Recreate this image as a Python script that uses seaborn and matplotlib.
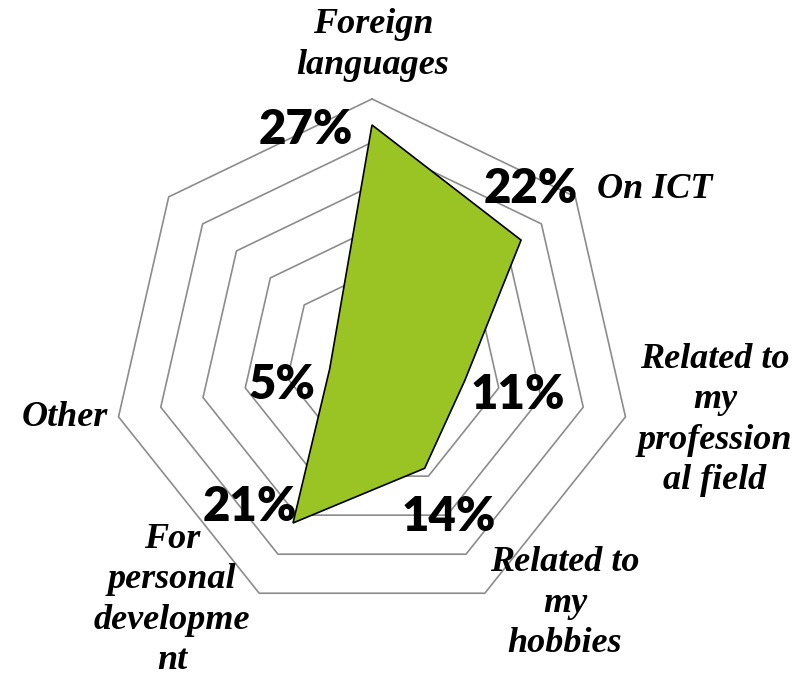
import numpy as np
import pandas as pd
import matplotlib.pyplot as plt
import seaborn as sns

sns.set_theme(style="white")

# chart data (the 7th spoke has no label and no value in the original)
categories = ["Foreign\nlanguages", "On ICT", "Related to\nmy\nprofession\nal field",
              "Related to\nmy\nhobbies", "For\npersonal\ndevelopme\nnt", "Other", ""]
values = [27, 22, 11, 14, 21, 5, np.nan]
pct_labels = ["27%", "22%", "11%", "14%", "21%", "5%", ""]
ring_levels = [5, 10, 15, 20, 25, 30]

# layout only: value label offsets (pixels) and category label centres (pixels)
label_offsets = [(-66, -5), (10, 51), (53, -15), (24, -49), (-43, 16), (-48, -16)]
cat_pos = [(373, 45), (655, 190), (715, 420), (565, 603), (172, 600), (65, 418)]

W, H = 809, 680
fig = plt.figure(figsize=(W / 100, H / 100), dpi=100)
ax = fig.add_axes([0, 0, 1, 1])
ax.set_xlim(-42.92, 50.42)
ax.set_ylim(-37.04, 41.42)
ax.set_aspect("equal")
ax.axis("off")

n = len(categories)
theta = 2 * np.pi * np.arange(n) / n
closed = np.append(theta, theta[0])

for lvl in ring_levels:
    ax.plot(lvl * np.sin(closed), lvl * np.cos(closed), color="#8c8c8c", lw=1.2, zorder=1)

df = pd.DataFrame({"cat": categories, "value": values, "theta": theta, "label": pct_labels})
df = df.dropna().reset_index(drop=True)
df["x"] = df["value"] * np.sin(df["theta"])
df["y"] = df["value"] * np.cos(df["theta"])

ax.fill(df["x"], df["y"], facecolor="#99c424", edgecolor="black", lw=1.2, zorder=2)

for i, row in df.iterrows():
    ax.annotate(row["label"], (row["x"], row["y"]), xytext=label_offsets[i],
                textcoords="offset pixels", ha="center", va="center",
                fontsize=34, fontweight="heavy", family="Lato", color="black", zorder=3)

for (px, py), name in zip(cat_pos, categories):
    fig.text(px / W, 1 - py / H, name, ha="center", va="center", fontsize=26,
             family="Liberation Serif", fontweight="bold", style="italic",
             linespacing=1.3, color="black")

fig.savefig("out.png", dpi=100, facecolor="white")
